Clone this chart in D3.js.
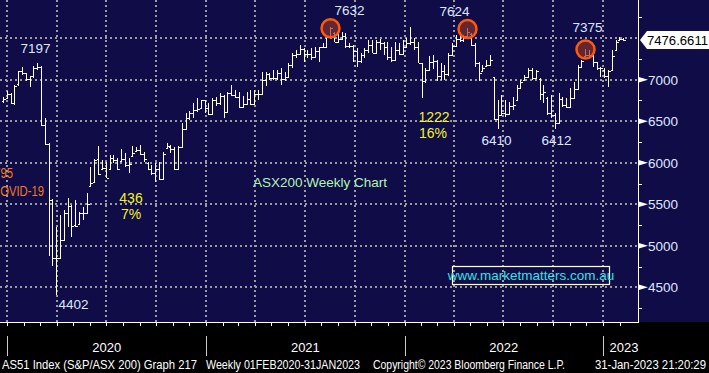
<!DOCTYPE html>
<html>
<head>
<meta charset="utf-8">
<script src="https://cdn.jsdelivr.net/npm/d3@7"></script>
<style>
  body { margin: 0; background: #000; }
  svg text { font-family: "Liberation Sans", Arial, sans-serif; }
</style>
</head>
<body>
<div id="chart"></div>
<script>
// weekly bars, first bar = week ending 20 Dec 2019
var firstWeek = new Date(2019, 11, 20);

var weekOpen = [6740,6780,6830,6720,6950,7100,7080,7010,7040,7140,7150,6450,6220,5550,4850,4850,5070,5390,5480,5250,
  5260,5390,5400,5720,5770,6040,5920,5940,5920,6060,6030,6020,6050,5970,6080,6140,6150,6100,6000,5930,
  5880,5930,5810,6180,6190,6170,5930,6190,6405,6539,6601,6635,6660,6757,6665,6590,6758,6715,6800,6607,
  6840,6810,6793,6673,6710,6767,6708,6824,6828,6995,7063,7017,7025,7080,7014,7030,7179,7296,7312,7369,
  7308,7308,7272,7350,7394,7393,7520,7560,7460,7488,7522,7400,7403,7342,7227,7300,7362,7415,7324,7457,
  7443,7396,7279,7241,7354,7304,7388,7445,7453,7393,7200,6988,7120,7217,7221,7049,7110,7064,7295,7406,
  7493,7478,7523,7550,7420,7205,7100,7160,7182,7030,6530,6578,6600,6590,6678,6760,6900,6997,7032,7115,
  7020,7010,6829,6780,6600,6576,6474,6762,6700,6677,6785,6892,7158,7290,7300,7290,7213,7147,7120,7039,
  7117,7358,7478,7493];
var weekHigh = [6790,6870,6845,6940,7110,7150,7085,7050,7170,7197,7160,6540,6240,5560,5230,5370,5430,5570,5490,5550,
  5405,5465,5635,5950,6050,6200,6030,6010,6095,6094,6054,6160,6114,6054,6202,6194,6214,6134,6013,5973,
  5993,6013,6134,6234,6214,6190,6200,6475,6595,6620,6716,6776,6760,6760,6720,6780,6790,6836,6810,6856,
  6936,6876,6856,6800,6856,6876,6876,6876,7097,7097,7077,7117,7117,7140,7090,7197,7317,7357,7418,7377,
  7357,7377,7397,7397,7438,7538,7632,7580,7558,7578,7558,7438,7418,7377,7317,7377,7478,7478,7478,7486,
  7458,7458,7397,7458,7438,7478,7498,7640,7498,7458,7200,7137,7290,7300,7240,7197,7177,7317,7438,7538,
  7578,7538,7624,7560,7438,7218,7177,7238,7298,7037,6756,6816,6756,6736,6796,6936,6997,7057,7137,7137,
  7117,7017,6937,6796,6816,6596,6836,6796,6776,6896,6977,7177,7238,7375,7358,7298,7218,7157,7137,7117,
  7358,7478,7518,7505];
var weekLow = [6720,6770,6710,6700,6930,7060,6980,6910,7020,7120,6440,6210,4880,4760,4402,4840,5060,5230,5110,5230,
  5250,5310,5390,5710,5765,5850,5910,5815,5910,5993,5913,6013,5953,5873,6074,6134,6094,6013,5913,5853,
  5773,5793,5800,6174,6120,5913,5920,6180,6400,6515,6535,6615,6655,6600,6580,6590,6680,6700,6535,6600,
  6800,6780,6660,6660,6696,6700,6700,6756,6820,6930,7000,6996,6996,6940,6980,7020,7137,7257,7300,7217,
  7257,7240,7260,7217,7380,7390,7510,7458,7458,7480,7377,7380,7217,7157,7197,7257,7317,7320,7320,7357,
  7297,7240,7217,7240,7297,7300,7380,7418,7357,7197,6776,6956,7100,7130,6980,7000,6996,7050,7290,7400,
  7458,7458,7518,7400,7157,6980,7097,7157,7177,6515,6410,6576,6555,6576,6636,6756,6896,6997,7017,6997,
  7017,6756,6716,6576,6535,6412,6474,6676,6656,6676,6776,6892,7157,7278,7258,7157,7117,7037,7017,6917,
  7117,7358,7478,7470];
var weekClose = [6770,6830,6720,6930,7100,7080,7010,7040,7140,7150,6450,6220,5550,4850,4850,5070,5390,5480,5240,5240,
  5390,5400,5500,5760,6030,5870,5940,5820,6060,6030,5930,6050,5970,5990,6120,6150,6100,6050,5930,5880,
  5930,5800,6110,6200,6170,5930,6190,6405,6539,6601,6635,6643,6757,6665,6587,6758,6715,6800,6607,6840,
  6810,6793,6673,6710,6767,6708,6824,6828,6995,7063,7017,7025,7080,7014,7030,7179,7296,7312,7369,7308,
  7308,7272,7350,7394,7393,7520,7628,7460,7488,7522,7400,7403,7342,7227,7300,7362,7415,7324,7457,7443,
  7396,7279,7241,7354,7304,7388,7445,7453,7393,7200,6988,7120,7217,7221,7049,7110,7064,7295,7406,7493,
  7478,7523,7574,7420,7205,7075,7145,7182,7238,6530,6578,6600,6590,6678,6700,6900,6975,7032,7115,7020,
  7104,6829,6855,6600,6576,6474,6762,6700,6677,6785,6892,7158,7230,7300,7301,7213,7147,7140,7039,7110,
  7291,7452,7493,7477];

var lastPrice = "7476.6611";
var priceTicks = [4500, 5000, 5500, 6000, 6500, 7000];
var gridLevels = [4500, 5000, 5500, 6000, 6500, 7000, 7500];
var minorLevels = [4250, 4750, 5250, 5750, 6250, 6750, 7250, 7750];
var yearLabels = ["2020", "2021", "2022", "2023"];

// peaks and troughs called out on the chart: bar index, label, dx, dy
var peakCalls = [[9, "7197", -2, -10], [86, "7632", 19, -12], [122, "7624", -13, -12], [153, "7375", 2, -17]];
var troughCalls = [[14, "4402", 17, 14], [130, "6410", -2, 16], [145, "6412", 1, 16]];
var circled = [86, 122, 153];

var W = 709, H = 373;
var plotRight = 638, plotBottom = 322;

var svg = d3.select("#chart").append("svg")
  .attr("width", W).attr("height", H);

svg.append("rect").attr("width", W).attr("height", H).attr("fill", "#000");
svg.append("rect").attr("width", W).attr("height", plotBottom).attr("fill", "#0f0c47");

var x = d3.scaleTime()
  .domain([new Date(2020, 0, 1), new Date(2023, 0, 1)])
  .range([7.2, 603]);
var y = d3.scaleLinear()
  .domain([4082, 7960])
  .range([plotBottom, 0]);

var bars = weekOpen.map(function(o, i) {
  return { date: d3.timeDay.offset(firstWeek, 7 * i), o: o, h: weekHigh[i], l: weekLow[i], c: weekClose[i] };
});
function bx(i) { return Math.round(x(bars[i].date) + 2.3) + 0.5; }

// gridlines
var grid = svg.append("g").attr("stroke", "#9c9c9c").attr("stroke-width", 2).attr("stroke-dasharray", "2,3");
grid.selectAll("line.h").data(gridLevels).enter().append("line")
  .attr("x1", 0).attr("x2", plotRight)
  .attr("y1", function(d) { return Math.round(y(d)); })
  .attr("y2", function(d) { return Math.round(y(d)); });
grid.selectAll("line.v").data(x.ticks(d3.timeMonth.every(3))).enter().append("line")
  .attr("y1", 0).attr("y2", plotBottom)
  .attr("x1", function(d) { return Math.round(x(d)); })
  .attr("x2", function(d) { return Math.round(x(d)); });

// OHLC bars
var g = svg.append("g").attr("stroke", "#fff").attr("stroke-width", 1).attr("shape-rendering", "crispEdges");
bars.forEach(function(d, i) {
  var cx = bx(i);
  g.append("line").attr("x1", cx).attr("x2", cx).attr("y1", y(d.h)).attr("y2", y(d.l));
  g.append("line").attr("x1", cx - 2).attr("x2", cx).attr("y1", Math.round(y(d.o)) + 0.5).attr("y2", Math.round(y(d.o)) + 0.5);
  g.append("line").attr("x1", cx).attr("x2", cx + 2).attr("y1", Math.round(y(d.c)) + 0.5).attr("y2", Math.round(y(d.c)) + 0.5);
});

// circles on the highs
svg.selectAll("circle.peak").data(circled).enter().append("circle")
  .attr("cx", function(i) { return bx(i); })
  .attr("cy", function(i) { return y(weekHigh[i]) + 1; })
  .attr("r", 9)
  .attr("fill", "rgba(140,52,40,0.68)")
  .attr("stroke", "#ff5a0a").attr("stroke-width", 2.5);

// number call-outs
var numColor = "#dfe7ff";
svg.selectAll("text.peak").data(peakCalls).enter().append("text")
  .attr("x", function(d) { return bx(d[0]) + d[2]; })
  .attr("y", function(d) { return y(weekHigh[d[0]]) + d[3]; })
  .attr("text-anchor", "middle").attr("font-size", 13.5).attr("fill", numColor)
  .text(function(d) { return d[1]; });
svg.selectAll("text.trough").data(troughCalls).enter().append("text")
  .attr("x", function(d) { return bx(d[0]) + d[2]; })
  .attr("y", function(d) { return y(weekLow[d[0]]) + d[3]; })
  .attr("text-anchor", "middle").attr("font-size", 13.5).attr("fill", numColor)
  .text(function(d) { return d[1]; });

// move annotations
var orange = "#f07a20", yellow = "#f4f41c";
svg.append("text").attr("x", 13).attr("y", 178).attr("text-anchor", "end").attr("font-size", 14).attr("fill", orange)
  .attr("textLength", 25).attr("lengthAdjust", "spacingAndGlyphs").text("2795");
svg.append("text").attr("x", 44).attr("y", 196).attr("text-anchor", "end").attr("font-size", 14).attr("fill", orange)
  .attr("textLength", 52).attr("lengthAdjust", "spacingAndGlyphs").text("COVID-19");
svg.append("text").attr("x", 131).attr("y", 203).attr("text-anchor", "middle").attr("font-size", 14).attr("fill", yellow).text("436");
svg.append("text").attr("x", 131).attr("y", 219).attr("text-anchor", "middle").attr("font-size", 14).attr("fill", yellow).text("7%");
svg.append("text").attr("x", 434).attr("y", 122).attr("text-anchor", "middle").attr("font-size", 14).attr("fill", yellow).text("1222");
svg.append("text").attr("x", 433).attr("y", 138).attr("text-anchor", "middle").attr("font-size", 14).attr("fill", yellow).text("16%");
svg.append("text").attr("x", 253).attr("y", 187).attr("font-size", 13.5).attr("fill", "#b4f4b0").text("ASX200 Weekly Chart");

svg.append("rect").attr("x", 452.5).attr("y", 266.5).attr("width", 157).attr("height", 18)
  .attr("fill", "none").attr("stroke", "#fff").attr("stroke-width", 1.2);
svg.append("text").attr("x", 531).attr("y", 280).attr("text-anchor", "middle").attr("font-size", 13.5)
  .attr("fill", "#36e2e6").text("www.marketmatters.com.au");

// right price axis
var ax = svg.append("g");
ax.append("line").attr("x1", plotRight + 0.5).attr("x2", plotRight + 0.5).attr("y1", 0).attr("y2", plotBottom)
  .attr("stroke", "#fff");
ax.selectAll("line.minor").data(minorLevels).enter().append("line")
  .attr("x1", plotRight).attr("x2", plotRight + 4)
  .attr("y1", function(d) { return Math.round(y(d)) + 0.5; })
  .attr("y2", function(d) { return Math.round(y(d)) + 0.5; })
  .attr("stroke", "#fff");
ax.selectAll("path.tri").data(priceTicks).enter().append("path")
  .attr("d", function(d) { var t = y(d); return "M" + plotRight + "," + (t - 3) + "L" + (plotRight + 10) + "," + t + "L" + plotRight + "," + (t + 3) + "Z"; })
  .attr("fill", "#fff");
ax.selectAll("text").data(priceTicks).enter().append("text")
  .attr("x", 648).attr("y", function(d) { return y(d) + 5; })
  .attr("font-size", 13.5).attr("fill", numColor)
  .text(function(d) { return d; });

// last price tag
var ly = y(weekClose[weekClose.length - 1]);
svg.append("path")
  .attr("d", "M640," + ly + "L647," + (ly - 9) + "L709," + (ly - 9) + "L709," + (ly + 9) + "L647," + (ly + 9) + "Z")
  .attr("fill", "#fff");
svg.append("text").attr("x", 647).attr("y", ly + 5).attr("font-size", 13.5).attr("fill", "#000")
  .attr("textLength", 61).attr("lengthAdjust", "spacingAndGlyphs").text(lastPrice);

// bottom time axis
var bt = svg.append("g").attr("stroke", "#fff");
bt.append("line").attr("x1", 0).attr("x2", plotRight + 1).attr("y1", plotBottom + 0.5).attr("y2", plotBottom + 0.5);
bt.selectAll("line.t").data(x.ticks(d3.timeMonth.every(1)).concat([new Date(2019, 11, 1), new Date(2023, 1, 1)])).enter().append("line")
  .attr("x1", function(d) { return Math.round(x(d)) + 0.5; })
  .attr("x2", function(d) { return Math.round(x(d)) + 0.5; })
  .attr("y1", plotBottom).attr("y2", plotBottom + 4);
var yearStarts = yearLabels.map(function(s) { return new Date(+s, 0, 1); });
bt.selectAll("line.yr").data(yearStarts).enter().append("line")
  .attr("x1", function(d) { return Math.round(x(d)) + 0.5; })
  .attr("x2", function(d) { return Math.round(x(d)) + 0.5; })
  .attr("y1", 336).attr("y2", 356).attr("stroke", "#ccc");
svg.selectAll("text.yr").data(yearLabels).enter().append("text")
  .attr("x", function(d, i) { return i < 3 ? (x(yearStarts[i]) + x(d3.timeYear.offset(yearStarts[i], 1))) / 2 : x(yearStarts[i]) + 21; })
  .attr("y", 352).attr("text-anchor", "middle").attr("font-size", 13).attr("fill", "#fff")
  .text(function(d) { return d; });

// footer
var footer = [
  ["AS51 Index (S&P/ASX 200) Graph 217", 2, 195],
  ["Weekly 01FEB2020-31JAN2023", 206, 154],
  ["Copyright\u00a9 2023 Bloomberg Finance L.P.", 373, 192],
  ["31-Jan-2023 21:20:29", 595, 111]
];
svg.selectAll("text.ft").data(footer).enter().append("text")
  .attr("x", function(d) { return d[1]; }).attr("y", 369)
  .attr("font-size", 12).attr("fill", "#fff")
  .attr("textLength", function(d) { return d[2]; }).attr("lengthAdjust", "spacingAndGlyphs")
  .text(function(d) { return d[0]; });
</script>
</body>
</html>
